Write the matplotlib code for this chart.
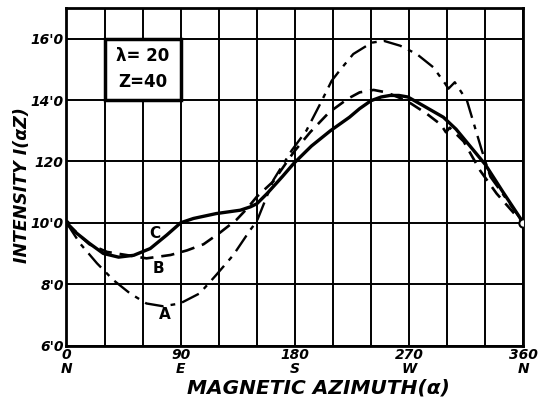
import numpy as np
import matplotlib
matplotlib.use('Agg')
import matplotlib.pyplot as plt
from matplotlib.patches import Rectangle

#Curve C (solid)
az_c = [0, 8, 18, 29, 41, 53, 66, 79, 90, 100, 118, 137, 145, 150, 158, 170, 179, 193, 208, 223,
        231, 240, 248, 255, 262, 269, 281, 297, 307, 316, 330, 344, 360]
i_c = [10.0, 9.66, 9.33, 9.0, 8.88, 8.94, 9.16, 9.6, 10.0, 10.14, 10.3, 10.41, 10.52, 10.62, 10.95,
       11.5, 11.93, 12.5, 13.0, 13.44, 13.72, 13.98, 14.1, 14.15, 14.15, 14.1, 13.82, 13.44, 13.05,
       12.6, 11.9, 11.0, 10.0]

#Curve B (dashed)
az_b = [0, 10, 18, 32, 47, 63, 82, 95, 108, 121, 134, 142, 150, 163, 179, 192, 207, 222, 231, 242,
        252, 268, 284, 295, 299, 302, 313, 326, 339, 355, 360]
i_b = [10.0, 9.6, 9.3, 9.05, 8.95, 8.84, 8.95, 9.1, 9.3, 9.68, 10.1, 10.45, 10.85, 11.35, 12.3,
       12.95, 13.6, 14.05, 14.25, 14.33, 14.25, 13.98, 13.55, 13.2, 12.95, 13.1, 12.65, 11.7, 10.95,
       10.2, 10.0]

#Curve A (dash-dot)
az_a = [0, 10.6, 24, 37, 50, 63, 76, 89.5, 105, 118, 131.5, 144.7, 150, 163, 177.5, 189, 200, 209,
        216, 226, 240.5, 250, 263, 276, 289, 298.5, 301, 306, 315.6, 327, 334, 347, 360]
i_a = [10.0, 9.33, 8.68, 8.13, 7.7, 7.37, 7.28, 7.37, 7.7, 8.3, 8.95, 9.76, 10.05, 11.39, 12.36,
       13.0, 13.88, 14.63, 15.0, 15.5, 15.87, 15.93, 15.77, 15.5, 15.07, 14.53, 14.37, 14.58, 13.98,
       12.4, 11.5, 10.75, 10.0]

xticks = [0, 90, 180, 270, 360]
xtick_labels = ['0\nN', '90\nE', '180\nS', '270\nW', '360\nN']
yticks = [6, 8, 10, 12, 14, 16]
ytick_labels = ["6'0", "8'0", "10'0", "120", "14'0", "16'0"]

fnt = dict(family='DejaVu Sans', weight='bold', style='italic')

fig = plt.figure(figsize=(5.38, 4.04), dpi=100)
ax = fig.add_axes([0.1236, 0.1448, 0.8491, 0.8354])

#grid
for g in np.arange(0, 361, 30):
    ax.axvline(g, color='black', lw=1.4, zorder=1)
for g in yticks:
    ax.axhline(g, color='black', lw=1.4, zorder=1)

ax.plot(az_c, i_c, color='black', lw=2.4, zorder=3)
ax.plot(az_b, i_b, color='black', lw=1.9, dashes=(5, 3), zorder=3)
ax.plot(az_a, i_a, color='black', lw=1.7, dashes=(8, 3, 2, 3), zorder=3)
ax.plot([360], [10.0], 'o', ms=6, mfc='white', mec='black', mew=1.5, zorder=4)
ax.plot([0], [10.0], 'o', ms=4, color='black', zorder=4)

ax.text(69.8, 9.66, 'C', ha='center', va='center', fontsize=11, weight='bold')
ax.text(72.4, 8.52, 'B', ha='center', va='center', fontsize=11, weight='bold')
ax.text(77.7, 7.0, 'A', ha='center', va='center', fontsize=11, weight='bold')

#parameter box
ax.add_patch(Rectangle((30, 14), 60, 2, fill=True, fc='white', ec='black', lw=2.5, zorder=2))
ax.text(60, 15.42, 'λ= 20', ha='center', va='center', fontsize=12, weight='bold', zorder=5)
ax.text(60, 14.58, 'Z=40', ha='center', va='center', fontsize=12, weight='bold', zorder=5)

ax.set_xlim(0, 360)
ax.set_ylim(6, 17)
ax.set_xticks(xticks)
ax.set_xticklabels(xtick_labels, fontsize=10, linespacing=0.95, **fnt)
ax.set_yticks(yticks)
ax.set_yticklabels(ytick_labels, fontsize=10, **fnt)
ax.tick_params(length=0, pad=2)
for s in ax.spines.values():
    s.set_linewidth(2)

fig.text(318/538, 1 - 388/404, 'MAGNETIC AZIMUTH(α)', ha='center', va='center', fontsize=14.5, **fnt)
fig.text(22/538, 1 - 185/404, 'INTENSITY I(αZ)', ha='center', va='center', rotation=90,
         fontsize=12.5, **fnt)

plt.savefig('out.png', dpi=100)
